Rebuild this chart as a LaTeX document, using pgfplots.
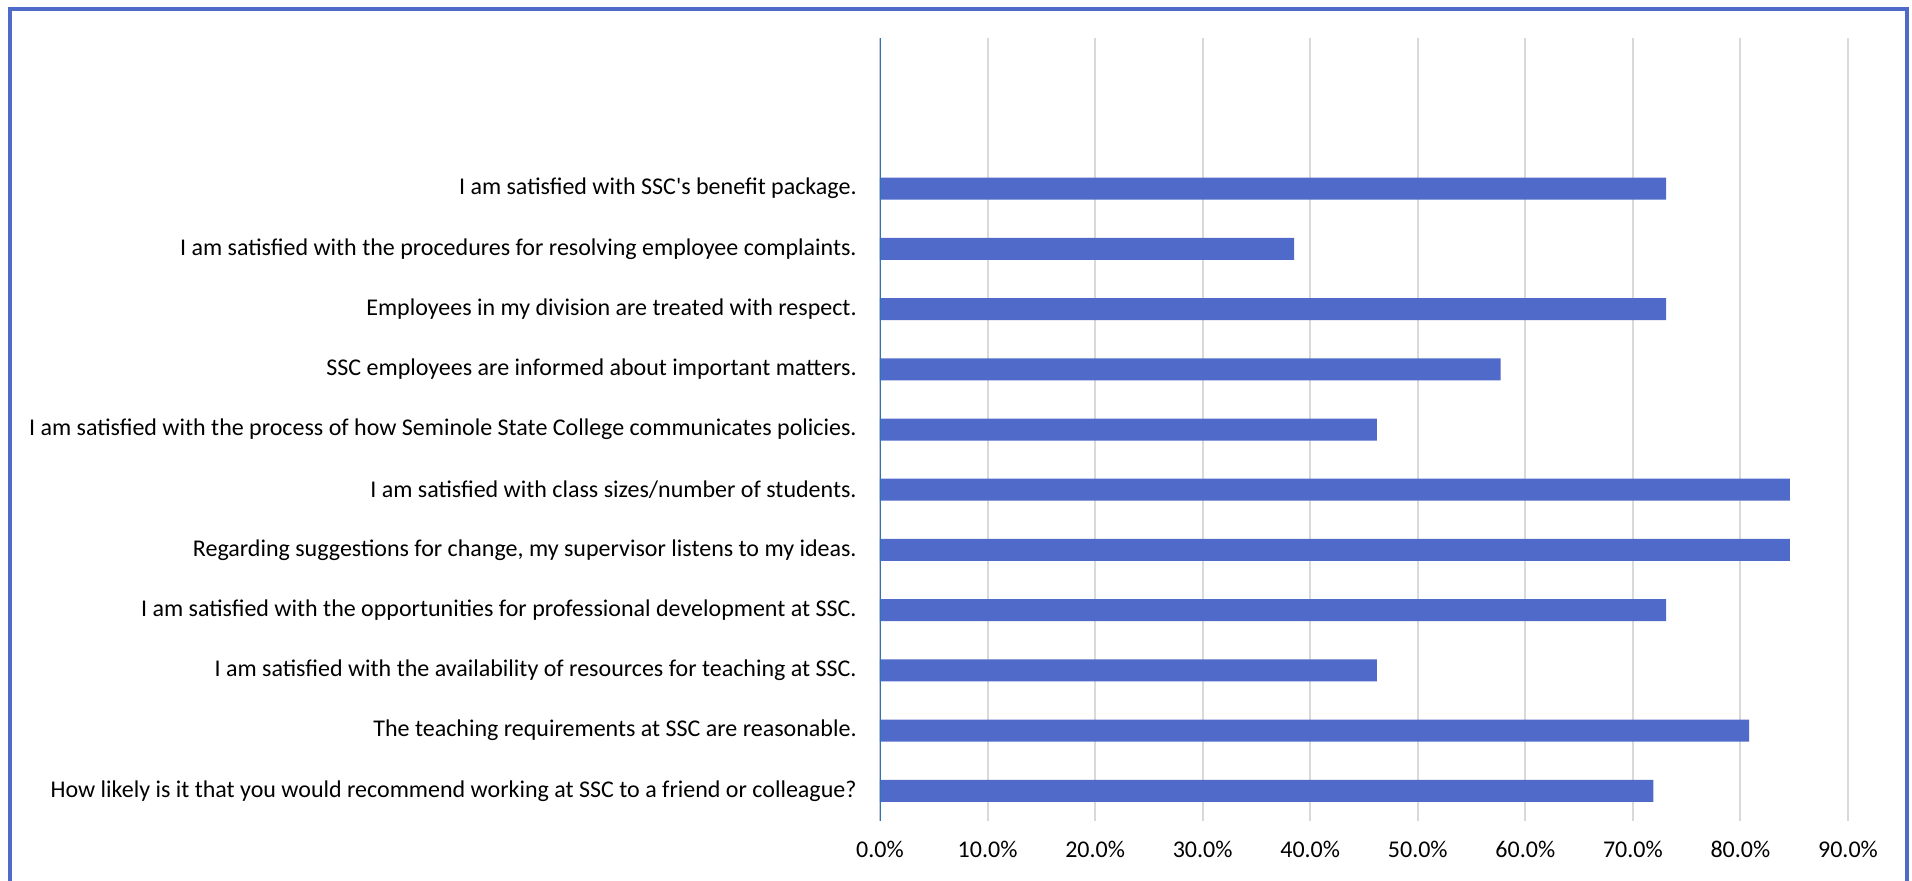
\documentclass[border=0pt]{standalone}
\usepackage{pgfplots}
\pgfplotsset{compat=1.18}
\usepackage{fontspec}
\setmainfont{Carlito}[Ligatures=TeXOff]
\definecolor{barblue}{RGB}{79,106,200}
\definecolor{axblue}{RGB}{46,117,182}
\definecolor{gridgray}{RGB}{217,217,217}
\begin{document}
\fontsize{12pt}{14pt}\selectfont
\begin{tikzpicture}
\useasboundingbox (0,0) rectangle (956pt,440pt);
\draw[barblue, line width=2pt] (5pt,-10pt) -- (5pt,435.25pt) -- (953.5pt,435.25pt) -- (953.5pt,-10pt);
\begin{axis}[
  at={(440pt,29.5pt)}, anchor=south west,
  scale only axis, width=484pt, height=391.5pt,
  xbar, bar width=11pt,
  xmin=0, xmax=90, ymin=-0.5, ymax=12.5,
  xtick={0,10,...,90},
  ytick={0,...,10},
  yticklabels={
    How likely is it that you would recommend working at SSC to a friend or colleague?,
    The teaching requirements at SSC are reasonable.,
    I am satisfied with the availability of resources for teaching at SSC.,
    I am satisfied with the opportunities for professional development at SSC.,
    {Regarding suggestions for change, my supervisor listens to my ideas.},
    I am satisfied with class sizes/number of students.,
    I am satisfied with the process of how Seminole State College communicates policies.,
    SSC employees are informed about important matters.,
    Employees in my division are treated with respect.,
    I am satisfied with the procedures for resolving employee complaints.,
    I am satisfied with SSC's benefit package.
  },
  xticklabel={\pgfmathprintnumber[fixed,fixed zerofill,precision=1]{\tick}\%},
  /pgf/number format/assume math mode=true,
  major tick length=0pt,
  axis line style={draw=none},
  xmajorgrids, major x grid style={gridgray, line width=1pt},
  yticklabel style={inner sep=0pt, xshift=-11.5pt, font=\fontsize{12pt}{14pt}\selectfont},
  xticklabel style={inner sep=0pt, yshift=-10pt, font=\fontsize{12pt}{14pt}\selectfont},
]
\addplot[fill=barblue, draw=none] coordinates {
  (71.9,0) (80.8,1) (46.2,2) (73.1,3) (84.6,4) (84.6,5)
  (46.2,6) (57.7,7) (73.1,8) (38.5,9) (73.1,10)
};
\draw[axblue, line width=0.75pt] (axis cs:0,-0.5) -- (axis cs:0,12.5);
\end{axis}
\end{tikzpicture}
\end{document}
